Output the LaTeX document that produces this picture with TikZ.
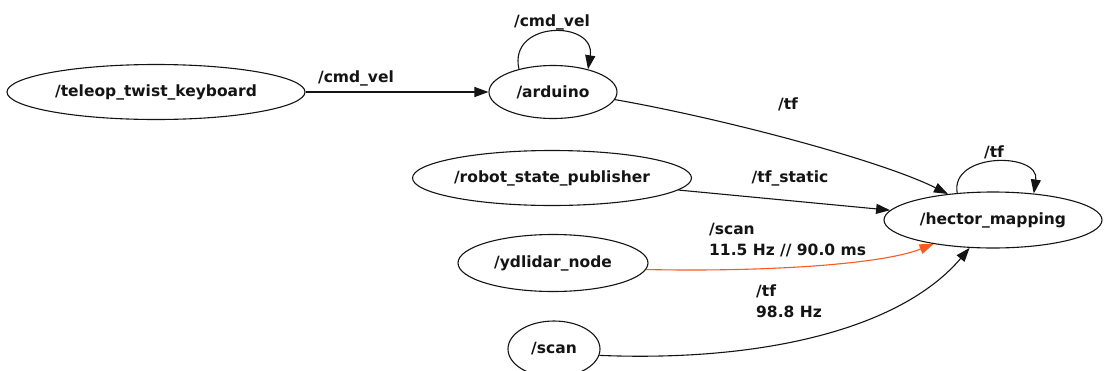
\documentclass[tikz,border=0pt]{standalone}
\usepackage{fontspec}
\setmainfont{DejaVu Sans}
\usetikzlibrary{arrows.meta,shapes.geometric}
\definecolor{edgeorange}{RGB}{255,90,30}
\definecolor{ink}{RGB}{20,20,20}
\begin{document}
\begin{tikzpicture}[x=1pt,y=-1pt,
  rosnode/.style={draw=ink, ellipse, line width=1.1pt, inner sep=0pt, text=ink,
    font=\fontsize{15.5}{21}\selectfont\bfseries},
  edge/.style={draw=ink, line width=1.1pt, -{Triangle[length=14pt,width=10pt]}},
  lbl/.style={inner sep=0pt, text=ink, font=\fontsize{15.5}{21}\selectfont\bfseries}]
\clip (0,0) rectangle (1104,370);
\useasboundingbox (0,0) rectangle (1104,370);
\fill[white] (0,0) rectangle (1104,370);
% nodes
\node[rosnode, minimum width=298pt, minimum height=55pt] (tk) at (156,92) {/teleop\_twist\_keyboard};
\node[rosnode, minimum width=128pt, minimum height=53pt] (ard) at (553,92) {/arduino};
\node[rosnode, minimum width=279pt, minimum height=55pt] (rsp) at (552,178) {/robot\_state\_publisher};
\node[rosnode, minimum width=218pt, minimum height=56pt] (hm) at (993,220) {/hector\_mapping};
\node[rosnode, minimum width=190pt, minimum height=57pt] (yd) at (553,263) {/ydlidar\_node};
\node[rosnode, minimum width=92pt, minimum height=56pt] (sc) at (554,349) {/scan};
% edges
\draw[edge] (tk) -- (ard);
\draw[edge] (ard.146) .. controls (508,20) and (596,20) .. (ard.33);
\draw[edge] (ard.-7) .. controls (720,118) and (880,160) .. (hm.150);
\draw[edge] (rsp) -- (hm);
\draw[edge] (hm.143) .. controls (950,152) and (1040,152) .. (hm.33);
\draw[edge, draw=edgeorange] (yd.-4) .. controls (760,272) and (880,265) .. (hm.202);
\draw[edge] (sc.-8) .. controls (760,362) and (900,330) .. (hm.230);
% labels
\node[lbl] (l1) at (356,78) {/cmd\_vel};
\node[lbl] (l2) at (552,22) {/cmd\_vel};
\node[lbl] (l3) at (788,104) {/tf};
\node[lbl] (l4) at (790,178) {/tf\_static};
\node[lbl] (l5) at (994,152) {/tf};
\node[lbl, align=left, anchor=west] (l6) at (709,240) {/scan\\11.5 Hz // 90.0 ms};
\node[lbl, align=left, anchor=west] (l7) at (756,301) {/tf\\98.8 Hz};
\end{tikzpicture}
\end{document}
